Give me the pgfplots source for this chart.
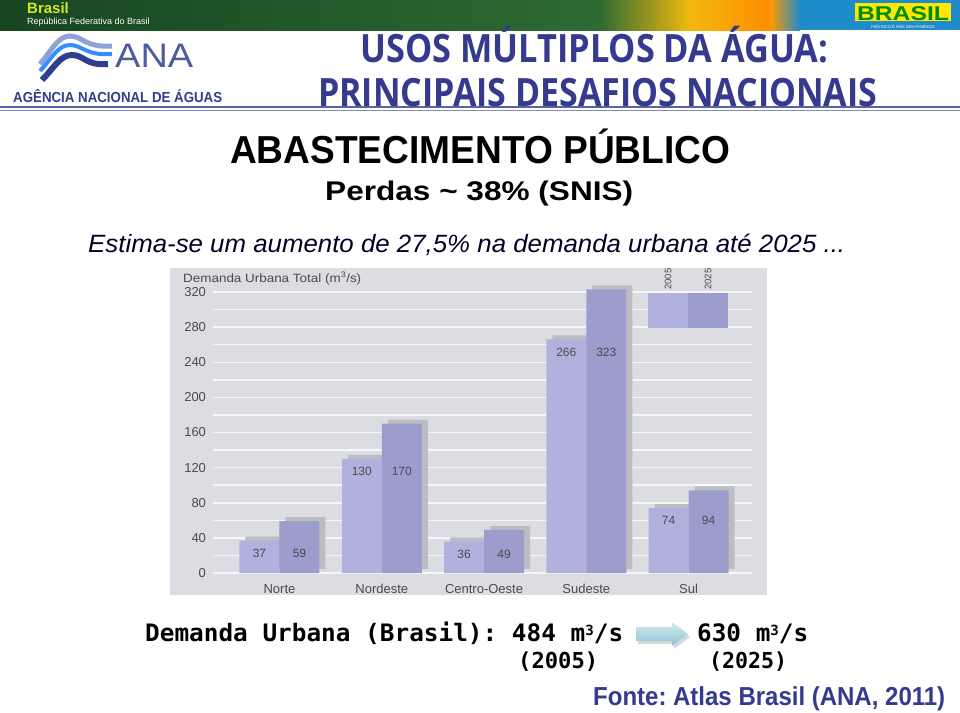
\documentclass[border=0pt]{standalone}
\usepackage{fontspec}
\setmainfont{Liberation Sans}
\newfontfamily\titlefont{Open Sans}
\newfontfamily\codefont{DejaVu Sans Mono}
\usepackage{graphicx}
\usepackage{pgfplots}
\pgfplotsset{compat=1.18}
\usetikzlibrary{shadows}

\definecolor{panel}{HTML}{DCDDE3}
\definecolor{gridw}{HTML}{F6F6F9}
\definecolor{bar05}{HTML}{B1B1DE}
\definecolor{bar25}{HTML}{9C9CCD}
\definecolor{shad}{HTML}{BDBDC1}
\definecolor{labgray}{HTML}{4A4A52}
\definecolor{navy}{HTML}{343A8E}
\definecolor{ananavy}{HTML}{2D3F8E}
\definecolor{bgreen}{HTML}{174520}
\definecolor{bgreen2}{HTML}{2E6B33}
\definecolor{byellow}{HTML}{F2B80F}
\definecolor{bblue}{HTML}{1E8CCB}
\definecolor{arrowtop}{HTML}{D2EBF0}
\definecolor{arrowbot}{HTML}{8EC4D0}

\newcommand\fs[1]{\fontsize{#1}{#1}\selectfont}
\newcommand\fitw[2]{\resizebox{#1}{\height}{#2}}

% demanda urbana total (m3/s): a = 2005, b = 2025
\pgfplotstableread{
x a b
0 37 59
1 130 170
2 36 49
3 266 323
4 74 94
}\demanda

\begin{document}
\frenchspacing
\begin{tikzpicture}
\begin{scope}[x=1pt,y=-1pt]
\useasboundingbox (0,0) rectangle (960,712);
\fill[white] (0,0) rectangle (960,712);
% top banner
\shade[left color=bgreen, right color=bgreen2] (0,0) rectangle (600,30);
\shade[left color=bgreen2, right color=byellow] (600,0) rectangle (690,30);
\shade[left color=byellow, right color=orange!90!yellow] (690,0) rectangle (770,30);
\shade[left color=orange!80!yellow, right color=bblue] (770,0) rectangle (800,30);
\fill[bblue] (800,0) rectangle (960,30);
\node[anchor=base west, inner sep=0, text=yellow!80!green!90!white] at (27,13) {\fs{15}\bfseries Brasil};
\node[anchor=base west, inner sep=0, text=white] at (27,24) {\fs{9}República Federativa do Brasil};
\fill[yellow!90!orange] (855,3) rectangle (951,21);
\node[anchor=base, inner sep=0, text=green!55!black] at (903,20) {\fs{20}\bfseries\fitw{92pt}{BRASIL}};
\node[anchor=base, inner sep=0, text=white] at (903,28) {\fs{4}PAÍS RICO É PAÍS SEM POBREZA};
% ANA logo
\draw[line width=5pt, cyan!35!blue!45] (40,64) .. controls (52,50) and (58,36) .. (70,36) .. controls (82,36) and (86,48) .. (112,46);
\draw[line width=4pt, blue!55!cyan!80] (40,71) .. controls (52,58) and (58,45) .. (70,45) .. controls (82,45) and (86,56) .. (112,54);
\draw[line width=6pt, ananavy] (42,80) .. controls (54,68) and (60,55) .. (72,55) .. controls (84,55) and (86,66) .. (108,64);
\node[anchor=base west, inner sep=0, text=ananavy!85!white] at (115,67) {\fs{34}\fitw{78pt}{ANA}};
\node[anchor=base west, inner sep=0, text=ananavy] at (13,102) {\fs{14.5}\bfseries\fitw{209pt}{AGÊNCIA NACIONAL DE ÁGUAS}};
\draw[line width=2pt, ananavy!80] (0,107) -- (960,107);
\draw[line width=0.8pt, ananavy!60] (0,110.5) -- (960,110.5);
% titles
\node[anchor=base west, inner sep=0, text=navy] at (360,62) {\titlefont\bfseries\fs{39}\fitw{468pt}{USOS MÚLTIPLOS DA ÁGUA:}};
\node[anchor=base west, inner sep=0, text=navy] at (318,106) {\titlefont\bfseries\fs{39}\fitw{559pt}{PRINCIPAIS DESAFIOS NACIONAIS}};
\node[anchor=base west, inner sep=0] at (230,163) {\fs{39}\bfseries\fitw{500pt}{ABASTECIMENTO PÚBLICO}};
\node[anchor=base west, inner sep=0] at (325,200) {\fs{27}\bfseries\fitw{308pt}{Perdas \textasciitilde{} 38\% (SNIS)}};
\node[anchor=base west, inner sep=0, text=black!85!blue] at (88,252) {\fs{25}\itshape\fitw{757pt}{Estima-se um aumento de 27,5\% na demanda urbana até 2025 ...}};
% chart panel
\fill[panel] (170,268) rectangle (767,595);
\end{scope}

\begin{axis}[
  at={(213pt,-573pt)}, anchor=south west,
  scale only axis, width=539pt, height=281pt,
  xmin=-0.65, xmax=4.62, ymin=0, ymax=320,
  clip=false,
  axis line style={draw=none},
  major tick style={draw=none}, minor tick style={draw=none},
  ytick={0,40,...,320}, minor ytick={20,60,...,300},
  ymajorgrids, yminorgrids,
  major grid style={gridw, line width=1.5pt},
  minor grid style={gridw, line width=1.5pt},
  xtick={0,1,2,3,4},
  xticklabels={Norte,Nordeste,Centro-Oeste,Sudeste,Sul},
  /pgf/number format/assume math mode=true,
  tick label style={font=\fs{13}, text=labgray},
  yticklabel style={xshift=-3.5pt},
  xticklabel style={anchor=base, yshift=-16pt},
  ybar=0pt, bar width=40pt,
  nodes near coords,
  every node near coord/.append style={font=\fs{12}, text=labgray, anchor=center},
]
\addplot[fill=bar05, draw=none,
  drop shadow={shadow xshift=6pt, shadow yshift=4pt, fill=shad, opacity=1},
  every node near coord/.append style={yshift=-12.5pt}]
  table[x=x, y=a] {\demanda};
\addplot[fill=bar25, draw=none,
  drop shadow={shadow xshift=6pt, shadow yshift=4pt, fill=shad, opacity=1},
  visualization depends on={\thisrow{b}-\thisrow{a} \as \dy},
  every node near coord/.append style={yshift={-12.5pt-\dy*0.878pt}}]
  table[x=x, y=b] {\demanda};
\end{axis}

\begin{scope}[x=1pt,y=-1pt]
% legend
\fill[bar05] (648,293) rectangle (688,328);
\fill[bar25] (688,293) rectangle (728,328);
\node[rotate=90, anchor=west, inner sep=0, text=labgray] at (668,290) {\fs{9.5}2005};
\node[rotate=90, anchor=west, inner sep=0, text=labgray] at (708,290) {\fs{9.5}2025};
\node[anchor=north west, inner sep=0, text=labgray] at (183,272) {\fs{12}\fitw{178pt}{Demanda Urbana Total (m\textsuperscript{3}/s)}};
% bottom text
\node[anchor=base west, inner sep=0] at (145,641) {\codefont\bfseries\fs{24}\fitw{478pt}{Demanda Urbana (Brasil): 484 m{\fs{14}\raisebox{6pt}{3}}/s}};
\fill[black!30, opacity=.5] (638,630) -- (674,630) -- (674,625) -- (690,637) -- (674,649) -- (674,644) -- (638,644) -- cycle;
\shade[top color=arrowtop, bottom color=arrowbot] (636,627) -- (672,627) -- (672,622) -- (688,634) -- (672,646) -- (672,641) -- (636,641) -- cycle;
\node[anchor=base west, inner sep=0] at (697,641) {\codefont\bfseries\fs{24}\fitw{111pt}{630 m{\fs{14}\raisebox{6pt}{3}}/s}};
\node[anchor=base west, inner sep=0] at (518,668) {\codefont\bfseries\fs{22}\fitw{80pt}{(2005)}};
\node[anchor=base west, inner sep=0] at (709,668) {\codefont\bfseries\fs{22}\fitw{78pt}{(2025)}};
\node[anchor=base west, inner sep=0, text=navy] at (593,705) {\fs{26}\bfseries\fitw{352pt}{Fonte: Atlas Brasil (ANA, 2011)}};
\end{scope}
\end{tikzpicture}
\end{document}
